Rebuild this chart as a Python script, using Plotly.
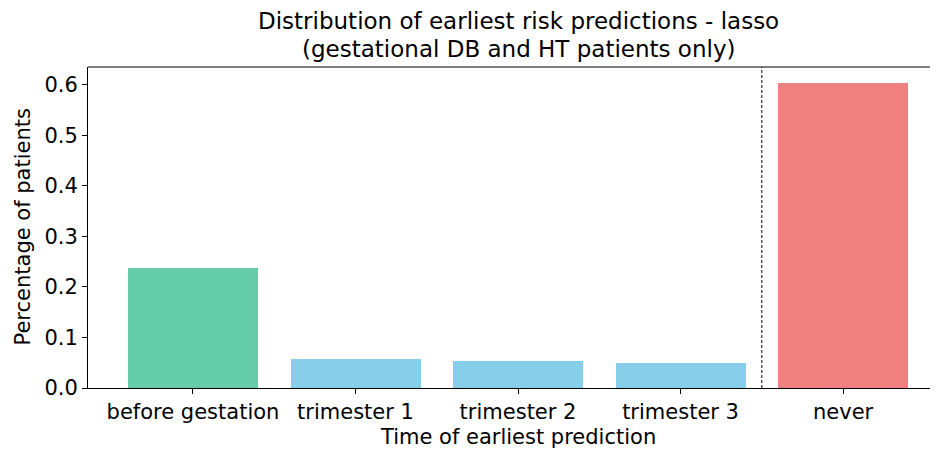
import plotly.graph_objects as go

categories = ["before gestation", "trimester 1", "trimester 2", "trimester 3", "never"]
values = [0.237, 0.057, 0.053, 0.049, 0.604]
colors = ["#66CDAA", "#87CEEB", "#87CEEB", "#87CEEB", "#F08080"]
y_ticks = [0.0, 0.1, 0.2, 0.3, 0.4, 0.5, 0.6]
title_lines = ["Distribution of earliest risk predictions - lasso",
               "(gestational DB and HT patients only)"]
x_label = "Time of earliest prediction"
y_label = "Percentage of patients"

# page has an 8px body margin; compensate so the plot lands where the reference has it
W, H = 930, 445
L, R, T, B = 80, 0, 59, 65
PW, PH = W - L - R, H - T - B
font = "DejaVu Sans"


def px_x(page_x):
    return (page_x - 8 - L) / PW


def px_y(page_y):
    return (H - B - (page_y - 8)) / PH


fig = go.Figure()
fig.add_trace(go.Bar(
    x=list(range(len(categories))), y=values,
    marker=dict(color=colors, line=dict(width=0)),
    width=0.8, showlegend=False,
))

fig.add_shape(type="line", xref="x", yref="paper", x0=3.5, x1=3.5, y0=0, y1=1,
              line=dict(color="black", width=1, dash="3px,2px"))
# top spine
fig.add_shape(type="line", xref="paper", yref="paper", x0=0, x1=1, y0=1, y1=1,
              line=dict(color="black", width=1))

cx = px_x(518)
for line, py in zip(title_lines, [21.5, 48.5]):
    fig.add_annotation(text=line, xref="paper", yref="paper", x=cx, y=px_y(py),
                       xanchor="center", yanchor="middle", showarrow=False, borderpad=0,
                       font=dict(family=font, size=23, color="black"))
fig.add_annotation(text=x_label, xref="paper", yref="paper", x=cx, y=px_y(437),
                   xanchor="center", yanchor="middle", showarrow=False,
                   font=dict(family=font, size=21, color="black"))
fig.add_annotation(text=y_label, xref="paper", yref="paper", x=px_x(22), y=0.5,
                   textangle=-90, xanchor="center", yanchor="middle", showarrow=False,
                   font=dict(family=font, size=21, color="black"))

fig.update_layout(
    width=W, height=H,
    margin=dict(l=L, r=R, t=T, b=B, autoexpand=False),
    plot_bgcolor="white", paper_bgcolor="white",
    font=dict(family=font, size=21, color="black"),
    bargap=0,
)
fig.update_xaxes(
    range=[-0.646, 4.584], automargin=False,
    tickmode="array", tickvals=list(range(len(categories))), ticktext=categories,
    ticks="outside", ticklen=5, tickwidth=1, tickcolor="black",
    showline=True, linecolor="black", linewidth=1,
    showgrid=False, zeroline=False,
    tickfont=dict(family=font, size=21, color="black"),
)
fig.update_yaxes(
    range=[0, 0.6356], automargin=False,
    tickmode="array", tickvals=y_ticks, ticktext=[f"{v:.1f}" for v in y_ticks],
    ticks="outside", ticklen=5, tickwidth=1, tickcolor="black",
    showline=True, linecolor="black", linewidth=1,
    showgrid=False, zeroline=False,
    tickfont=dict(family=font, size=21, color="black"),
)

fig.write_html("out.html")
